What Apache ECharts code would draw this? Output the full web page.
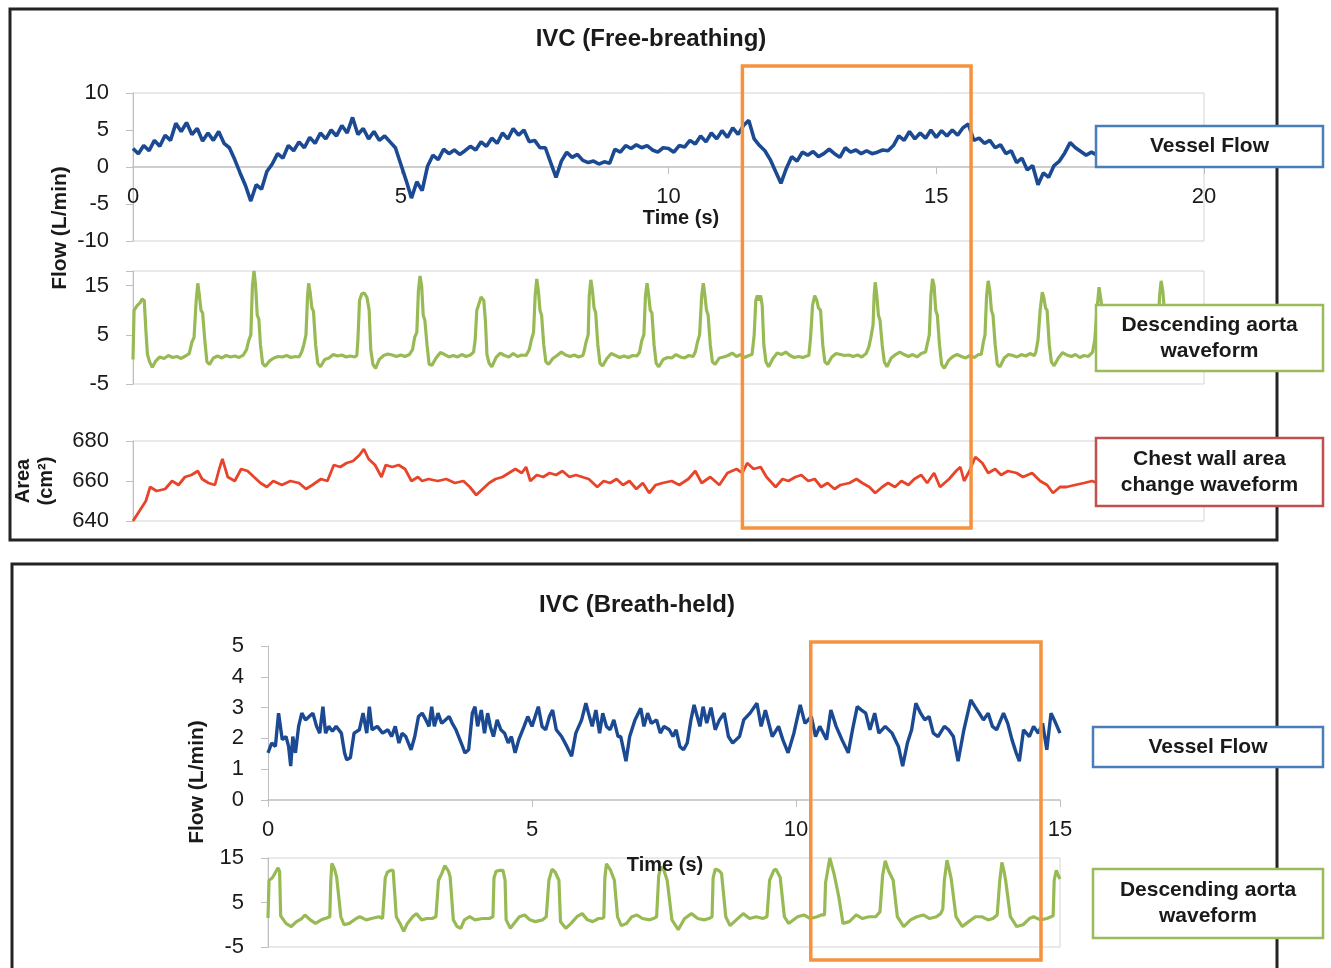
<!DOCTYPE html>
<html>
<head>
<meta charset="utf-8">
<script src="https://cdn.jsdelivr.net/npm/echarts/dist/echarts.min.js"></script>
<style>
html, body { margin: 0; padding: 0; background: #fff; }
#chart { width: 1331px; height: 968px; }
</style>
</head>
<body>
<div id="chart"></div>
<script>
// ---- IVC free-breathing: vessel flow (L/min), sampled every 0.1 s from 0 to 20 s
var flowFreeStep = 0.1;
var flowFree = [
  2.5, 1.8, 2.9, 2.2, 3.6, 2.8, 4.3, 3.6, 5.9, 4.8,
  6.0, 4.4, 5.2, 3.5, 4.6, 3.6, 4.8, 3.2, 2.6, 1.0,
  -0.8, -2.5, -4.6, -2.4, -3.0, -0.6, 0.4, 1.8, 1.2, 2.9,
  2.2, 3.4, 2.6, 4.0, 3.2, 4.6, 3.8, 5.0, 4.2, 5.6,
  4.6, 6.7, 4.4, 5.2, 3.8, 4.8, 3.6, 4.2, 3.4, 2.6,
  0.4, -1.8, -4.2, -2.0, -3.2, 0.1, 1.6, 1.0, 2.4, 1.8,
  2.3, 1.7, 2.2, 2.8, 2.3, 3.4, 2.8, 3.9, 3.2, 4.6,
  3.8, 5.2, 4.3, 5.0, 3.4, 3.6, 2.6, 2.6, 0.6, -1.4,
  0.8, 2.0, 1.3, 1.7, 0.9, 0.6, 0.8, 0.4, 0.7, 0.5,
  2.4, 2.0, 2.9, 2.5, 3.0, 2.6, 2.9, 2.3, 2.0, 2.6,
  2.5, 2.0, 2.9, 2.7, 3.6, 3.1, 4.2, 3.4, 4.6, 3.8,
  4.9, 4.0, 5.3, 4.4, 5.6, 6.3, 3.8, 2.9, 2.2, 1.0,
  -0.6, -2.2, -0.2, 1.4, 0.8, 2.0, 1.6, 2.1, 1.4, 1.8,
  2.4, 1.8, 1.3, 2.6, 2.0, 2.3, 1.8, 2.2, 1.8, 2.0,
  2.3, 2.2, 2.9, 4.2, 3.6, 4.8, 3.8, 4.6, 3.9, 5.0,
  4.0, 4.9, 4.2, 5.0, 4.3, 5.3, 5.8, 3.6, 3.9, 3.2,
  3.6, 2.6, 3.0, 1.8, 2.2, 0.6, 1.2, -0.4, 0.2, -2.4,
  -0.8, -1.4, 0.2, 0.8, 1.9, 3.3, 2.6, 2.1, 1.6, 2.0,
  1.6, 2.3, 1.8, 2.6, 2.0, 2.8, 2.2, 3.4, 5.6, 2.8,
  2.4, 1.8, 2.3, 1.6, 2.0, 1.4, 1.9, 1.2, 1.6, 1.0,
  1.4
];

// ---- descending aorta waveform, free-breathing: [time s, flow]
var aortaFree = [
  [0,0],[0.02,10],[0.08,11],[0.13,11.5],[0.17,12.3],[0.21,12],[0.24,6],[0.27,1],[0.31,-0.5],[0.36,-1.6],[0.42,-0.4],[0.5,0.5],[0.58,0.2],[0.66,0.8],[0.74,0.4],[0.82,0.6],[0.9,0.2],[0.98,0.7],
  [1.05,1.2],[1.1,3.5],[1.14,4.5],[1.18,12],[1.21,15.5],[1.24,13],[1.27,10],[1.3,9.5],[1.34,4],[1.38,-0.5],[1.43,-1],[1.5,0.3],[1.58,0.7],[1.66,0.3],[1.74,0.8],[1.82,0.5],[1.9,0.7],[1.98,0.4],[2.06,0.9],
  [2.12,2],[2.16,3.8],[2.2,5],[2.23,15],[2.26,18],[2.29,15],[2.32,9],[2.35,8.2],[2.38,3],[2.42,-0.8],[2.47,-1.4],[2.55,-0.3],[2.63,0.3],[2.71,0.6],[2.79,0.5],[2.87,0.8],[2.95,0.4],[3.03,0.6],[3.1,0.5],
  [3.15,1.5],[3.19,3],[3.23,5],[3.26,13],[3.28,15.5],[3.31,13.5],[3.34,10.5],[3.37,9.8],[3.41,3],[3.45,-0.8],[3.5,-1.5],[3.58,0],[3.66,0.3],[3.74,1],[3.82,0.7],[3.9,0.9],[3.98,0.5],[4.06,0.7],[4.14,0.5],
  [4.18,0.8],[4.2,4],[4.23,12],[4.27,13.3],[4.32,13.5],[4.37,12.6],[4.41,10],[4.44,2],[4.48,-1],[4.53,-1.8],[4.6,0],[4.68,0.8],[4.76,1.1],[4.84,0.9],[4.92,0.6],[5,0.9],[5.08,0.6],[5.16,1],
  [5.22,2],[5.26,4.5],[5.3,5.5],[5.33,14],[5.36,17],[5.39,15],[5.42,9],[5.45,8],[5.49,3],[5.53,-1],[5.58,-1.2],[5.66,0.3],[5.74,1.4],[5.82,1],[5.9,0.5],[5.98,0.8],[6.06,0.5],[6.14,1],[6.22,0.6],[6.3,0.9],
  [6.36,1.5],[6.39,4],[6.42,10],[6.45,11],[6.5,12.7],[6.55,12],[6.58,8],[6.61,1],[6.65,-0.8],[6.7,-1.5],[6.78,0.4],[6.86,1.3],[6.94,0.8],[7.02,0.5],[7.1,1.2],[7.18,0.6],[7.26,0.9],[7.34,0.8],
  [7.4,2],[7.44,4],[7.48,5.5],[7.51,13],[7.54,16.4],[7.57,14],[7.6,10],[7.63,9],[7.67,3],[7.71,-0.5],[7.76,-1],[7.84,0.2],[7.92,0.8],[8,1.5],[8.08,0.9],[8.16,0.6],[8.24,0.9],[8.32,0.5],[8.4,0.8],
  [8.42,1.5],[8.46,3.5],[8.5,5],[8.52,13],[8.55,16.2],[8.58,14],[8.61,10.5],[8.64,9.5],[8.68,3],[8.72,-0.8],[8.77,-1.3],[8.85,0.2],[8.93,1.2],[9.01,0.8],[9.09,0.4],[9.17,0.7],[9.25,0.4],[9.33,0.8],[9.41,0.7],
  [9.46,1.5],[9.5,3.8],[9.54,5],[9.57,13],[9.6,15.5],[9.63,13],[9.66,10],[9.69,9.5],[9.73,3],[9.77,-0.8],[9.82,-1.5],[9.9,0],[9.98,0.4],[10.06,0.3],[10.14,1],[10.22,0.5],[10.3,0.3],[10.38,0.8],[10.46,0.6],
  [10.5,1.5],[10.54,3.5],[10.58,5],[10.62,13],[10.65,15.5],[10.68,13],[10.71,10],[10.74,9],[10.78,3],[10.82,-0.5],[10.87,-1],[10.95,0.3],[11.03,0.5],[11.11,0.8],[11.19,1.3],[11.27,0.6],[11.35,1],[11.42,0.4],[11.5,0.8],
  [11.56,1],[11.6,5],[11.63,12],[11.66,13],[11.69,12],[11.72,13],[11.75,11],[11.78,3],[11.82,-0.5],[11.87,-1.5],[11.95,0.2],[12.03,1.3],[12.11,1],[12.19,1.5],[12.27,0.8],[12.35,0.4],[12.43,0.6],[12.51,0.4],[12.58,0.7],
  [12.62,0.8],[12.65,4],[12.69,11],[12.73,13],[12.77,12],[12.8,10.5],[12.84,10],[12.88,3],[12.92,-0.5],[12.97,-1],[13.05,0.5],[13.13,1.2],[13.21,1],[13.29,0.8],[13.37,0.9],[13.45,0.6],[13.53,0.9],[13.61,0.5],[13.69,1.2],
  [13.74,2.5],[13.78,4.5],[13.82,7],[13.84,13],[13.86,15.7],[13.89,13],[13.92,9],[13.95,8],[13.99,3],[14.03,-0.5],[14.08,-1.5],[14.16,0.3],[14.24,1],[14.32,1.5],[14.4,1],[14.48,0.6],[14.56,1],[14.64,0.5],[14.72,1.2],[14.8,1.5],
  [14.83,3],[14.87,5],[14.9,13],[14.93,16.4],[14.96,15],[14.99,10],[15.02,9],[15.06,3],[15.1,-1],[15.15,-1.8],[15.23,-0.2],[15.31,0.6],[15.39,1],[15.47,0.6],[15.55,0.3],[15.63,0.8],[15.71,0.4],[15.79,1],
  [15.84,1],[15.88,3.5],[15.91,5],[15.94,13],[15.97,16],[16,14],[16.03,10],[16.06,9],[16.1,3],[16.14,-1],[16.19,-1.5],[16.27,0.3],[16.35,1],[16.43,0.8],[16.51,0.5],[16.59,1],[16.67,0.7],[16.75,1.2],[16.83,0.8],
  [16.86,1.5],[16.9,4],[16.94,10],[16.98,13.7],[17.01,12.5],[17.04,10.5],[17.07,10],[17.11,3],[17.15,-0.5],[17.2,-1.3],[17.28,0.3],[17.36,1.4],[17.44,0.9],[17.52,0.6],[17.6,1],[17.68,0.4],[17.76,0.8],[17.84,0.6],
  [17.92,1.5],[17.96,4],[18,10],[18.04,14.7],[18.07,12.5],[18.1,10],[18.13,9],[18.17,3],[18.21,-0.5],[18.26,-1.2],[18.34,0.4],[18.42,0.8],[18.5,0.5],[18.58,1],[18.66,0.6],[18.74,0.9],[18.82,0.5],[18.9,0.8],[18.98,0.6],
  [19.06,1.5],[19.1,3.5],[19.14,5],[19.17,13],[19.2,16],[19.23,14],[19.26,10],[19.29,9],[19.33,3],[19.37,-0.8],[19.42,-1.5],[19.5,0.2],[19.58,0.8],[19.66,0.5],[19.74,1],[19.82,0.6],[19.9,0.8],[19.98,0.5]
];

// ---- chest wall area (cm2), free-breathing: [time s, area]
var areaFree = [
  [0,640],[0.12,645],[0.24,650],[0.32,657],[0.44,655],[0.6,656],[0.73,660],[0.85,658],[0.97,662],[1.09,663],[1.21,665],[1.29,661],[1.41,659],[1.53,658],[1.61,666],[1.67,671],[1.77,662],[1.9,660],
  [2.02,666],[2.14,665],[2.26,662],[2.38,659],[2.5,657],[2.62,660],[2.78,658],[2.94,660],[3.1,659],[3.23,656],[3.35,658],[3.51,661],[3.63,660],[3.75,668],[3.87,667],[3.99,669],
  [4.11,670],[4.23,673],[4.31,676],[4.4,671],[4.52,668],[4.64,662],[4.72,668],[4.84,667],[4.96,668],[5.08,666],[5.2,660],[5.32,662],[5.4,660],[5.52,661],[5.69,660],[5.85,661],
  [6.01,659],[6.17,660],[6.29,657],[6.41,653],[6.53,656],[6.65,659],[6.77,661],[6.9,662],[7.02,664],[7.14,666],[7.26,664],[7.34,667],[7.42,660],[7.54,663],[7.66,662],[7.78,664],
  [7.9,663],[8.02,665],[8.15,662],[8.27,663],[8.39,662],[8.51,661],[8.67,657],[8.79,660],[8.91,659],[9.03,661],[9.15,658],[9.27,660],[9.4,656],[9.52,659],[9.64,654],[9.76,658],
  [9.89,659],[10.06,660],[10.2,658],[10.37,661],[10.5,665],[10.62,659],[10.78,662],[10.95,658],[11.1,664],[11.27,666],[11.38,664],[11.47,669],[11.59,666],[11.72,667],[11.83,662],
  [12.0,657],[12.13,661],[12.24,660],[12.37,662],[12.48,663],[12.61,660],[12.73,661],[12.85,657],[12.97,659],[13.1,656],[13.21,658],[13.38,659],[13.51,661],[13.62,659],[13.75,657],
  [13.86,654],[13.99,657],[14.1,659],[14.23,657],[14.35,660],[14.48,658],[14.59,661],[14.72,663],[14.83,659],[14.96,664],[15.07,657],[15.24,661],[15.37,665],[15.45,667],[15.52,660],
  [15.62,665],[15.73,672],[15.86,669],[15.97,664],[16.1,666],[16.21,663],[16.34,665],[16.5,664],[16.62,662],[16.79,664],[16.94,660],[17.07,658],[17.18,654],[17.31,657],[17.43,657],
  [17.59,658],[17.76,659],[17.91,660],[18.1,658],[18.3,660],[18.5,659],[18.7,661],[18.9,659],[19.1,660],[19.3,658],[19.5,660],[19.7,659],[19.9,660],[20,659]
];

// ---- IVC breath-held: vessel flow (L/min): [time s, flow]
var flowHeld = [
  [0,1.53],[0.07,1.85],[0.14,1.74],[0.2,2.82],[0.27,1.96],[0.34,2.06],[0.39,1.74],[0.43,1.1],[0.47,2.06],[0.52,1.53],[0.58,2.39],[0.64,2.82],[0.71,2.6],[0.78,2.71],[0.85,2.82],[0.92,2.39],[0.98,2.17],
  [1.04,3.03],[1.09,2.17],[1.15,2.39],[1.22,2.23],[1.29,2.39],[1.39,2.17],[1.45,1.53],[1.49,1.31],[1.56,1.37],[1.63,2.17],[1.73,2.28],[1.8,2.82],[1.87,2.17],[1.92,3.03],[1.97,2.28],
  [2.07,2.39],[2.17,2.17],[2.27,2.28],[2.34,2.06],[2.41,2.39],[2.48,1.85],[2.54,2.17],[2.61,2.06],[2.71,1.63],[2.78,2.06],[2.85,2.71],[2.92,2.82],[2.99,2.6],[3.05,2.39],[3.1,3.03],
  [3.15,2.39],[3.22,2.82],[3.29,2.49],[3.36,2.6],[3.43,2.71],[3.49,2.49],[3.56,2.28],[3.66,1.85],[3.73,1.53],[3.8,1.63],[3.87,2.82],[3.92,3.03],[3.97,2.39],[4.04,2.92],[4.1,2.17],
  [4.16,2.82],[4.21,2.39],[4.27,2.06],[4.34,2.6],[4.41,2.28],[4.48,2.17],[4.55,1.85],[4.61,2.06],[4.68,1.53],[4.75,1.96],[4.85,2.39],[4.92,2.71],[5.0,2.39],[5.12,3.03],[5.19,2.39],
  [5.26,2.28],[5.33,2.71],[5.39,2.92],[5.46,2.28],[5.56,2.06],[5.66,1.74],[5.75,1.42],[5.83,2.17],[5.94,2.6],[6.02,3.14],[6.07,2.82],[6.14,2.39],[6.21,2.92],[6.28,2.17],[6.34,2.82],
  [6.41,2.39],[6.48,2.28],[6.55,2.6],[6.63,2.06],[6.68,2.06],[6.78,1.26],[6.85,2.06],[6.95,2.6],[7.06,2.98],[7.12,2.39],[7.19,2.82],[7.26,2.49],[7.36,2.6],[7.43,2.17],[7.5,2.39],
  [7.6,2.28],[7.67,2.06],[7.73,2.28],[7.8,1.74],[7.87,1.63],[7.94,1.85],[8.01,2.6],[8.07,3.09],[8.18,2.39],[8.24,3.03],[8.31,2.5],[8.39,3.0],[8.47,2.28],[8.55,2.6],[8.64,2.82],
  [8.72,2.06],[8.8,1.85],[8.93,2.06],[9.01,2.6],[9.13,2.82],[9.26,3.14],[9.34,2.39],[9.42,2.92],[9.55,2.06],[9.67,2.39],[9.75,1.96],[9.85,1.53],[9.96,2.17],[10.08,3.09],[10.17,2.49],
  [10.29,2.71],[10.37,2.06],[10.45,2.39],[10.58,1.96],[10.66,2.92],[10.76,2.39],[10.87,1.96],[10.99,1.53],[11.07,2.28],[11.16,3.03],[11.24,2.92],[11.32,2.82],[11.4,2.28],[11.49,2.82],
  [11.57,2.17],[11.69,2.39],[11.82,2.17],[11.94,1.74],[12.02,1.1],[12.11,1.85],[12.19,2.28],[12.27,3.14],[12.36,2.82],[12.44,2.6],[12.52,2.71],[12.6,2.17],[12.69,2.06],[12.81,2.39],
  [12.89,2.28],[12.98,2.06],[13.07,1.26],[13.18,2.28],[13.31,3.25],[13.39,3.03],[13.47,2.82],[13.55,2.6],[13.64,2.82],[13.72,2.39],[13.8,2.28],[13.93,2.82],[14.01,2.49],[14.09,1.96],
  [14.17,1.53],[14.23,1.26],[14.31,2.28],[14.42,2.06],[14.5,2.39],[14.59,2.17],[14.67,2.49],[14.75,1.63],[14.83,2.82],[14.92,2.49],[15.0,2.17]
];

// ---- descending aorta waveform, breath-held: [time s, flow]
var aortaHeld = [
  [0,1.5],[0.02,10],[0.08,10.5],[0.13,11.5],[0.19,12.8],[0.22,12],[0.24,2],[0.34,0.3],[0.44,-0.4],[0.54,0.7],[0.64,1.4],[0.7,2.2],[0.8,1.1],[0.9,0.3],[1.01,1.1],[1.11,1.5],
  [1.17,1.8],[1.19,10],[1.21,13.8],[1.26,12.5],[1.3,10.7],[1.38,1.8],[1.44,0],[1.54,0.3],[1.67,1.4],[1.74,1.8],[1.86,1.1],[1.96,1.4],[2.1,1.8],[2.17,1.4],
  [2.2,1.5],[2.22,10.5],[2.26,11.8],[2.32,12.2],[2.37,12.2],[2.43,1.8],[2.5,0.3],[2.57,-1.5],[2.64,0.3],[2.74,1.8],[2.81,2.5],[2.91,1.1],[3.01,1.4],[3.11,1.4],[3.18,1.8],
  [3.21,1.8],[3.23,10],[3.29,11.5],[3.35,13.3],[3.42,12],[3.45,10.7],[3.51,1.1],[3.58,-0.4],[3.65,-0.8],[3.72,1.1],[3.82,1.8],[3.92,1.1],[4.06,1.4],[4.19,1.4],[4.26,1.8],
  [4.28,10.5],[4.32,12],[4.38,12.2],[4.45,12.2],[4.49,10],[4.51,1.1],[4.59,-0.8],[4.66,0.3],[4.76,1.8],[4.86,2.2],[4.96,1.1],[5.06,0.7],[5.2,1.1],[5.27,1.8],
  [5.3,1.8],[5.32,10],[5.38,12.5],[5.44,11.8],[5.51,10],[5.54,0.7],[5.64,-0.8],[5.74,0.3],[5.85,1.8],[5.95,2.5],[6.05,1.1],[6.15,0.7],[6.26,1.4],[6.32,1.4],
  [6.36,1.6],[6.38,10.5],[6.41,13.7],[6.49,12.2],[6.56,10],[6.62,1.8],[6.69,-0.2],[6.79,0.3],[6.89,1.8],[6.99,2.2],[7.09,1.4],[7.23,1.1],[7.3,1.4],[7.36,1.8],
  [7.38,1.8],[7.4,11],[7.44,13],[7.5,12.2],[7.56,10],[7.65,1.1],[7.77,-1.1],[7.89,1.4],[8.02,2.5],[8.14,1.4],[8.26,1.1],[8.35,1.4],
  [8.41,1.8],[8.43,10.5],[8.47,12.5],[8.54,12.2],[8.59,11.5],[8.67,1.8],[8.75,-0.2],[8.87,1.1],[9.0,2.5],[9.12,1.4],[9.25,1.8],[9.37,1.4],[9.45,1.8],
  [9.48,1.8],[9.5,10],[9.58,12.2],[9.62,12.5],[9.7,10.7],[9.78,1.8],[9.86,0.3],[10.03,1.8],[10.15,2.2],[10.27,1.4],[10.4,1.8],[10.48,2.2],
  [10.54,2.2],[10.56,9.4],[10.64,15],[10.72,11.5],[10.81,6.3],[10.89,0.3],[11.01,0.7],[11.14,2.2],[11.26,1.4],[11.38,1.8],[11.51,1.8],[11.59,2.9],
  [11.62,3],[11.64,11],[11.69,14.4],[11.75,12.2],[11.84,10],[11.92,1.8],[12.04,-0.4],[12.17,1.1],[12.29,1.8],[12.41,2.2],[12.53,1.4],[12.66,1.8],[12.74,2.5],
  [12.78,3.5],[12.81,10],[12.86,14.5],[12.9,12.5],[12.94,10.3],[13.03,1.8],[13.15,-0.4],[13.27,0.7],[13.4,1.8],[13.52,1.8],[13.64,1.1],[13.73,1.4],[13.81,2.2],
  [13.84,2.5],[13.86,10],[13.9,14],[13.94,12],[13.97,10],[14.06,1.8],[14.18,-0.4],[14.3,0],[14.42,1.4],[14.5,1.8],[14.63,1.1],[14.75,1.4],[14.83,1.8],
  [14.87,2],[14.89,10],[14.93,12.2],[14.97,11],[15.0,10.3]
];

// ---- tick labels shown on each axis
var timeFreeTicks = [0, 5, 10, 15, 20];
var flowFreeTicks = [-10, -5, 0, 5, 10];
var aortaFreeTicks = [-5, 5, 15];
var areaFreeTicks = [640, 660, 680];
var timeHeldTicks = [0, 5, 10, 15];
var flowHeldTicks = [0, 1, 2, 3, 4, 5];
var aortaHeldTicks = [-5, 5, 15];

// highlighted time windows (orange boxes)
var windowFree = [11.38, 15.65];
var windowHeld = [10.28, 14.64];

var FONT = '"Liberation Sans", Arial, sans-serif';
var TXT = '#1a1a1a';
var AXIS_GRAY = '#bfbfbf';

function onlyTicks(list) {
  return function (v) {
    for (var i = 0; i < list.length; i++) {
      if (Math.abs(list[i] - v) < 1e-6) return String(list[i]);
    }
    return '';
  };
}

function yAxisOf(grid, min, max, interval, ticks) {
  return {
    type: 'value', gridIndex: grid, min: min, max: max, interval: interval,
    axisLine: { show: true, lineStyle: { color: AXIS_GRAY, width: 1 } },
    axisTick: { show: true, length: 7, lineStyle: { color: AXIS_GRAY } },
    axisLabel: { fontSize: 22, color: TXT, fontFamily: FONT, margin: 24, formatter: onlyTicks(ticks) },
    splitLine: { show: false }
  };
}

// offset lifts the time axis up to the y = 0 line of its grid (Excel style)
function xAxisOf(grid, max, ticks, shown, offset) {
  return {
    type: 'value', gridIndex: grid, min: 0, max: max, interval: 5, show: shown,
    offset: offset || 0,
    axisLine: { show: true, onZero: false, lineStyle: { color: AXIS_GRAY, width: 1.5 } },
    axisTick: { show: true, length: 7, lineStyle: { color: AXIS_GRAY } },
    axisLabel: { fontSize: 22, color: TXT, fontFamily: FONT, margin: 19, formatter: onlyTicks(ticks) },
    splitLine: { show: false }
  };
}

function lineSeries(x, y, data, color, width) {
  return {
    type: 'line', xAxisIndex: x, yAxisIndex: y, data: data,
    showSymbol: false, symbol: 'none', smooth: false, animation: false,
    lineStyle: { color: color, width: width }, z: 3
  };
}

var chart = echarts.init(document.getElementById('chart'), null, { renderer: 'canvas' });

var gridBox = { show: true, borderColor: '#d4d4d4', borderWidth: 1, backgroundColor: 'transparent' };

var option = {
  backgroundColor: '#ffffff',
  animation: false,
  grid: [
    Object.assign({ left: 133, top: 93, width: 1071, height: 148 }, gridBox),
    Object.assign({ left: 133, top: 271, width: 1071, height: 113 }, gridBox),
    Object.assign({ left: 133, top: 441, width: 1071, height: 80 }, gridBox),
    { left: 268, top: 646, width: 792, height: 154, show: false },
    Object.assign({ left: 268, top: 858, width: 792, height: 89 }, gridBox)
  ],
  xAxis: [
    xAxisOf(0, 20, timeFreeTicks, true, -74),
    xAxisOf(1, 20, timeFreeTicks, false),
    xAxisOf(2, 20, timeFreeTicks, false),
    xAxisOf(3, 15, timeHeldTicks, true),
    xAxisOf(4, 15, timeHeldTicks, false)
  ],
  yAxis: [
    yAxisOf(0, -10, 10, 5, flowFreeTicks),
    yAxisOf(1, -5, 18, 10, aortaFreeTicks),
    yAxisOf(2, 640, 680, 20, areaFreeTicks),
    yAxisOf(3, 0, 5, 1, flowHeldTicks),
    yAxisOf(4, -5, 15, 10, aortaHeldTicks)
  ],
  series: [
    lineSeries(0, 0, flowFree.map(function (v, i) { return [i * flowFreeStep, v]; }), '#1b4a92', 3.6),
    lineSeries(1, 1, aortaFree, '#98ba55', 3.2),
    lineSeries(2, 2, areaFree, '#e8442a', 2.8),
    lineSeries(3, 3, flowHeld, '#1b4a92', 3.4),
    lineSeries(4, 4, aortaHeld, '#98ba55', 3.2)
  ]
};
chart.setOption(option);

// ---- annotation layer
function labelBox(x, y, w, h, color, lines) {
  var children = [{
    type: 'rect', z: 30, shape: { x: x, y: y, width: w, height: h },
    style: { fill: '#ffffff', stroke: color, lineWidth: 2.5 }
  }];
  var lh = 26;
  var y0 = y + h / 2 - (lines.length - 1) * lh / 2;
  lines.forEach(function (t, i) {
    children.push({
      type: 'text', z: 31, x: x + w / 2, y: y0 + i * lh,
      style: { text: t, font: 'bold 21px ' + FONT, fill: TXT, align: 'center', verticalAlign: 'middle' }
    });
  });
  return { type: 'group', children: children };
}

function text(x, y, s, size, rotate) {
  return {
    type: 'text', x: x, y: y, rotation: rotate ? Math.PI / 2 : 0, z: 25,
    style: { text: s, font: 'bold ' + size + 'px ' + FONT, fill: TXT, align: 'center', verticalAlign: 'middle' }
  };
}

var fx0 = chart.convertToPixel({ xAxisIndex: 0 }, windowFree[0]);
var fx1 = chart.convertToPixel({ xAxisIndex: 0 }, windowFree[1]);
var hx0 = chart.convertToPixel({ xAxisIndex: 3 }, windowHeld[0]);
var hx1 = chart.convertToPixel({ xAxisIndex: 3 }, windowHeld[1]);

chart.setOption({
  graphic: [
    // panel frames
    { type: 'rect', z: 15, shape: { x: 10, y: 9, width: 1267, height: 531 },
      style: { fill: 'none', stroke: '#232323', lineWidth: 3 } },
    { type: 'rect', z: 15, shape: { x: 12, y: 564, width: 1265, height: 420 },
      style: { fill: 'none', stroke: '#232323', lineWidth: 3 } },
    // titles and axis names
    text(651, 39, 'IVC (Free-breathing)', 24, false),
    text(637, 605, 'IVC (Breath-held)', 24, false),
    text(60, 228, 'Flow (L/min)', 21, true),
    text(197, 782, 'Flow (L/min)', 21, true),
    text(23, 481, 'Area', 20, true),
    text(46, 481, '(cm\u00B2)', 20, true),
    text(681, 218, 'Time (s)', 20, false),
    text(665, 865, 'Time (s)', 20, false),
    // highlighted windows
    { type: 'rect', z: 20, shape: { x: fx0, y: 66, width: fx1 - fx0, height: 462 },
      style: { fill: 'none', stroke: '#f5923e', lineWidth: 3.5 } },
    { type: 'rect', z: 20, shape: { x: hx0, y: 642, width: hx1 - hx0, height: 318 },
      style: { fill: 'none', stroke: '#f5923e', lineWidth: 3.5 } },
    // legend-like label boxes
    labelBox(1096, 126, 227, 41, '#4a7ebb', ['Vessel Flow']),
    labelBox(1096, 305, 227, 66, '#9bbb59', ['Descending aorta', 'waveform']),
    labelBox(1096, 438, 227, 68, '#c0504d', ['Chest wall area', 'change waveform']),
    labelBox(1093, 727, 230, 40, '#4a7ebb', ['Vessel Flow']),
    labelBox(1093, 869, 230, 69, '#9bbb59', ['Descending aorta', 'waveform'])
  ]
});
</script>
</body>
</html>
